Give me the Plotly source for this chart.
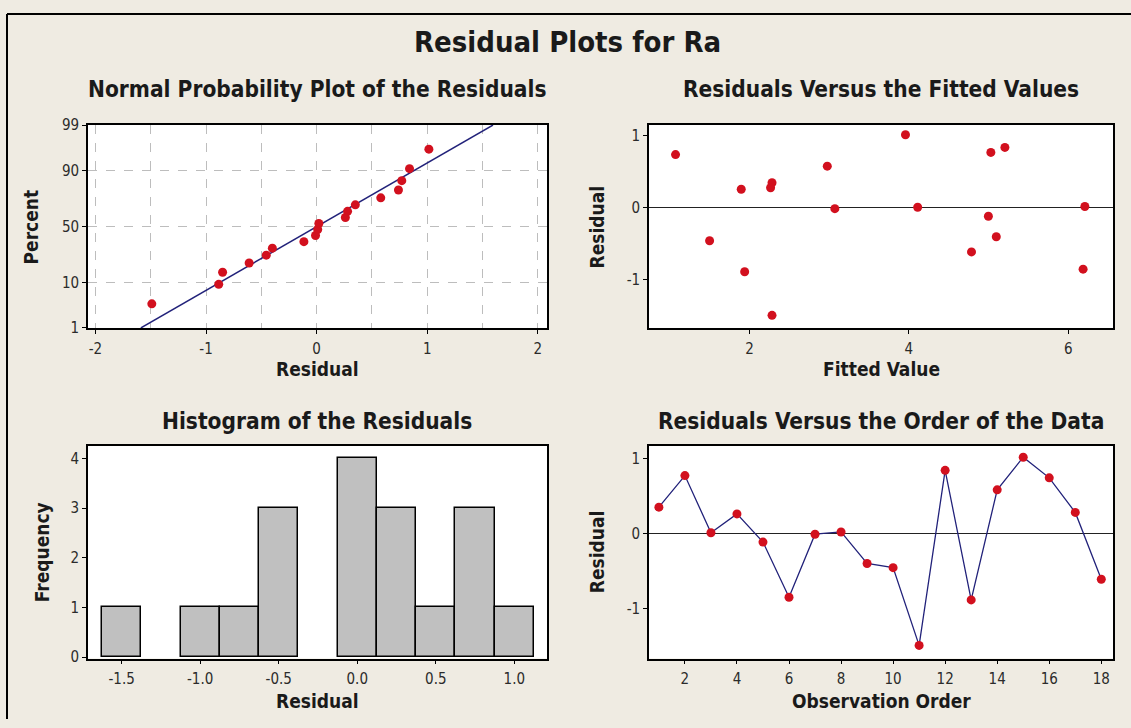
import plotly.graph_objects as go
from statistics import NormalDist, mean, stdev

# ---- data -------------------------------------------------------------
observation_order = list(range(1, 19))
residuals = [0.35, 0.77, 0.01, 0.26, -0.115, -0.85, -0.01, 0.02, -0.40,
             -0.455, -1.49, 0.84, -0.885, 0.58, 1.015, 0.74, 0.28, -0.61]
fitted_values = [2.283, 5.028, 4.11, 1.897, 4.997, 6.185, 3.071, 6.207, 5.096,
                 1.50, 2.283, 5.204, 1.94, 2.976, 3.957, 1.073, 2.265, 4.785]

percent_ticks = [1, 10, 50, 90, 99]
normal_x_ticks = [-2, -1, 0, 1, 2]
fitted_x_ticks = [2, 4, 6]
residual_y_ticks = [-1, 0, 1]
hist_x_ticks = [-1.5, -1.0, -0.5, 0.0, 0.5, 1.0]
hist_y_ticks = [0, 1, 2, 3, 4]
order_x_ticks = [2, 4, 6, 8, 10, 12, 14, 16, 18]

# ---- probability plot positions (median ranks as normal scores) --------
nd = NormalDist()
n = len(residuals)
sorted_res = sorted(residuals)
z_scores = [nd.inv_cdf((i + 1 - 0.3) / (n + 0.4)) for i in range(n)]
z_lo, z_hi = nd.inv_cdf(0.01), nd.inv_cdf(0.99)
mu, sigma = mean(residuals), stdev(residuals)
line_z = [z_lo, z_hi]
line_x = [mu + sigma * z for z in line_z]

# ---- layout helpers ---------------------------------------------------
W, H = 1131, 728
def dx(a, b):
    return [a / W, b / W]
def dy(top, bottom):
    return [1 - bottom / H, 1 - top / H]

FONT = "DejaVu Sans Condensed, DejaVu Sans, sans-serif"
BG = "#EFEBE2"
RED = "#D2101E"
NAVY = "#22227A"
TICK_FONT = dict(family=FONT, size=15, color="#2b2b2b")

axis_common = dict(
    showline=True, linecolor="black", linewidth=1.6, mirror=True,
    ticks="outside", ticklen=4, tickcolor="black", tickwidth=1,
    tickfont=TICK_FONT, showgrid=False, zeroline=False, fixedrange=True,
)
x_common = dict(axis_common, ticklabelstandoff=2)

def tick_text(vals, fmt="{:g}"):
    return [fmt.format(v) for v in vals]

LEFT = (88, 547)
RIGHT = (649, 1113)
TOP = (119, 327)
BOTTOM = (448, 666)

fig = go.Figure()

# Normal probability plot
fig.add_trace(go.Scatter(x=line_x, y=line_z, mode="lines",
                         line=dict(color=NAVY, width=1.5),
                         xaxis="x", yaxis="y", hoverinfo="skip"))
fig.add_trace(go.Scatter(x=sorted_res, y=z_scores, mode="markers",
                         marker=dict(color=RED, size=9),
                         xaxis="x", yaxis="y"))

# Residuals versus fitted values
fig.add_trace(go.Scatter(x=fitted_values, y=residuals, mode="markers",
                         marker=dict(color=RED, size=9),
                         xaxis="x2", yaxis="y2"))

# Histogram of residuals
fig.add_trace(go.Histogram(x=residuals,
                           xbins=dict(start=-1.625, end=1.125, size=0.25),
                           marker=dict(color="#C0C0C0",
                                       line=dict(color="black", width=1.5)),
                           xaxis="x3", yaxis="y3"))

# Residuals versus observation order
fig.add_trace(go.Scatter(x=observation_order, y=residuals, mode="lines+markers",
                         line=dict(color=NAVY, width=1.3),
                         marker=dict(color=RED, size=9),
                         xaxis="x4", yaxis="y4"))

grid_dash = dict(showgrid=True, gridcolor="#BDBDBD", gridwidth=1, griddash="dash")

fig.update_layout(
    width=W, height=H,
    margin=dict(l=0, r=0, t=0, b=0),
    paper_bgcolor=BG, plot_bgcolor="white",
    showlegend=False, bargap=0,
    font=dict(family=FONT, color="#1a1a1a"),
    xaxis=dict(x_common, domain=dx(*LEFT), range=[-2.067, 2.083],
               tickvals=normal_x_ticks, ticktext=tick_text(normal_x_ticks),
               anchor="y", **grid_dash,
               minor=dict(dtick=0.5, tick0=0, showgrid=True, gridcolor="#BDBDBD",
                          griddash="dash", ticks="")),
    yaxis=dict(axis_common, domain=dy(*TOP), range=[z_lo, z_hi],
               tickvals=[nd.inv_cdf(p / 100) for p in percent_ticks],
               ticktext=[str(p) for p in percent_ticks], anchor="x", **grid_dash),
    xaxis2=dict(x_common, domain=dx(*RIGHT), range=[0.74, 6.56],
                tickvals=fitted_x_ticks, ticktext=tick_text(fitted_x_ticks),
                anchor="y2"),
    yaxis2=dict(axis_common, domain=dy(*TOP), range=[-1.665, 1.15],
                tickvals=residual_y_ticks, ticktext=tick_text(residual_y_ticks),
                anchor="x2",
                zeroline=True, zerolinecolor="#222222", zerolinewidth=1),
    xaxis3=dict(x_common, domain=dx(*LEFT), range=[-1.714, 1.208],
                tickvals=hist_x_ticks, ticktext=tick_text(hist_x_ticks, "{:.1f}"),
                anchor="y3"),
    yaxis3=dict(axis_common, domain=dy(*BOTTOM), range=[-0.03, 4.25],
                tickvals=hist_y_ticks, ticktext=tick_text(hist_y_ticks),
                anchor="x3"),
    xaxis4=dict(x_common, domain=dx(*RIGHT), range=[0.62, 18.45],
                tickvals=order_x_ticks, ticktext=tick_text(order_x_ticks),
                anchor="y4"),
    yaxis4=dict(axis_common, domain=dy(*BOTTOM), range=[-1.665, 1.165],
                tickvals=residual_y_ticks, ticktext=tick_text(residual_y_ticks),
                anchor="x4",
                zeroline=True, zerolinecolor="#222222", zerolinewidth=1),
)

# ---- titles and axis labels --------------------------------------------
def label(text, x, y, size, angle=0):
    fig.add_annotation(text=text, x=x / W, y=1 - y / H, xref="paper", yref="paper",
                       showarrow=False, textangle=angle,
                       font=dict(family=FONT, size=size, color="#1a1a1a"),
                       xanchor="center", yanchor="middle")

cx_left = (LEFT[0] + LEFT[1]) / 2
cx_right = (RIGHT[0] + RIGHT[1]) / 2

label("<b>Residual Plots for Ra</b>", 567, 34, 29)
label("<b>Normal Probability Plot of the Residuals</b>", cx_left, 82, 22.5)
label("<b>Residuals Versus the Fitted Values</b>", cx_right, 82, 22.5)
label("<b>Histogram of the Residuals</b>", cx_left, 422, 22.5)
label("<b>Residuals Versus the Order of the Data</b>", cx_right, 422, 22.5)

label("<b>Residual</b>", cx_left, 369, 19)
label("<b>Fitted Value</b>", cx_right, 369, 19)
label("<b>Residual</b>", cx_left, 710, 19)
label("<b>Observation Order</b>", cx_right, 710, 19)

label("<b>Percent</b>", 31, 224, 19, -90)
label("<b>Residual</b>", 597, 224, 19, -90)
label("<b>Frequency</b>", 42, 557, 19, -90)
label("<b>Residual</b>", 597, 557, 19, -90)

# outer frame (top and left edges)
fig.add_shape(type="line", xref="paper", yref="paper",
              x0=7 / W, x1=1.0, y0=1 - 5 / H, y1=1 - 5 / H,
              line=dict(color="black", width=2))
fig.add_shape(type="line", xref="paper", yref="paper",
              x0=7 / W, x1=7 / W, y0=0, y1=1 - 5 / H,
              line=dict(color="black", width=2))

fig.write_html("out.html")
